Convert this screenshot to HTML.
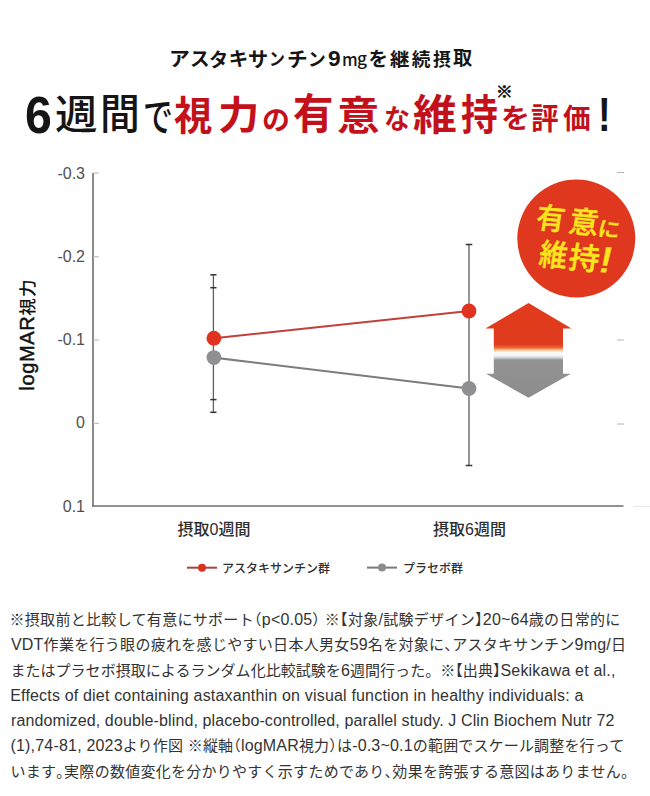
<!DOCTYPE html>
<html lang="ja">
<head>
<meta charset="utf-8">
<title>アスタキサンチン9mgを継続摂取</title>
<style>
html,body{margin:0;padding:0;background:#fff;}
body{width:650px;height:796px;position:relative;overflow:hidden;
  font-family:"Liberation Sans","Noto Sans CJK JP",sans-serif;color:#333;}
.g{position:absolute;line-height:1;white-space:nowrap;transform-origin:0 0;font-weight:700;}
.g.J{font-family:"Noto Sans CJK JP",sans-serif;}
.g.L{font-family:"Liberation Sans",sans-serif;}
svg{position:absolute;left:0;top:0;}
.fn{position:absolute;left:0;white-space:nowrap;font-family:"Noto Sans CJK JP",sans-serif;font-size:15px;line-height:24px;color:#333;}
.fn .l{font-family:"Liberation Sans",sans-serif;font-size:16px;letter-spacing:0.19px;}
.fn .h{font-feature-settings:"halt";}
.fn.lat{font-family:"Liberation Sans","Noto Sans CJK JP",sans-serif;font-size:16px;}
</style>
</head>
<body>
<span class="g J" style="left:168.6px;font-weight:700;top:47.94px;font-size:19.75px;color:#151515;transform:scaleX(1.055);">ア</span>
<span class="g J" style="left:189.93px;font-weight:700;top:48.15px;font-size:19.75px;color:#151515;transform:scaleX(0.995);">ス</span>
<span class="g J" style="left:209.35px;font-weight:700;top:48.62px;font-size:19.78px;color:#151515;transform:scaleX(0.969);">タ</span>
<span class="g J" style="left:228.74px;font-weight:700;top:48.17px;font-size:19.43px;color:#151515;">キ</span>
<span class="g J" style="left:248.29px;font-weight:700;top:47.65px;font-size:20.35px;color:#151515;transform:scaleX(0.989);">サ</span>
<span class="g J" style="left:269.1px;font-weight:700;top:49.42px;font-size:17.61px;color:#151515;transform:scaleX(0.9);">ン</span>
<span class="g J" style="left:287.34px;font-weight:700;top:47.63px;font-size:20.47px;color:#151515;transform:scaleX(1.012);">チ</span>
<span class="g J" style="left:307.88px;font-weight:700;top:48.81px;font-size:18.24px;color:#151515;transform:scaleX(0.97);">ン</span>
<span class="g L" style="left:328.21px;font-weight:700;top:48.33px;font-size:21.83px;color:#151515;transform:scaleX(1.039);">9</span>
<span class="g J" style="left:342.08px;font-weight:500;top:49.95px;font-size:17.7px;color:#151515;transform:scaleX(0.942);">m</span>
<span class="g J" style="left:357.22px;font-weight:500;top:50.33px;font-size:16.67px;color:#151515;transform:scaleX(1.038);">g</span>
<span class="g J" style="left:368.55px;font-weight:700;top:48.17px;font-size:19.43px;color:#151515;">を</span>
<span class="g J" style="left:389.71px;font-weight:700;top:48.92px;font-size:18.62px;color:#151515;transform:scaleX(1.041);">継</span>
<span class="g J" style="left:411.72px;font-weight:700;top:48.92px;font-size:18.62px;color:#151515;">続</span>
<span class="g J" style="left:433.14px;font-weight:700;top:48.97px;font-size:17.99px;color:#151515;transform:scaleX(0.99);">摂</span>
<span class="g J" style="left:453.11px;font-weight:700;top:48.31px;font-size:19.21px;color:#151515;">取</span>
<span class="g L" style="left:25.11px;font-weight:700;top:89.79px;font-size:51.13px;color:#151515;transform:scaleX(0.944);">6</span>
<span class="g J" style="left:54.92px;font-weight:500;top:91.76px;font-size:40.33px;color:#151515;transform:scaleX(1.055);">週</span>
<span class="g J" style="left:99.62px;font-weight:500;top:91.18px;font-size:41.69px;color:#151515;transform:scaleX(0.954);">間</span>
<span class="g J" style="left:143.15px;font-weight:500;top:93.87px;font-size:40.13px;color:#151515;transform:scaleX(0.746);">で</span>
<span class="g J" style="left:174.42px;font-weight:700;top:92.58px;font-size:40.21px;color:#c3111b;transform:scaleX(0.954);">視</span>
<span class="g J" style="left:218.14px;font-weight:700;top:93.76px;font-size:38.1px;color:#c3111b;transform:scaleX(1.086);">力</span>
<span class="g J" style="left:262.19px;font-weight:700;top:104.74px;font-size:27.67px;color:#c3111b;transform:scaleX(1.008);">の</span>
<span class="g J" style="left:292.79px;font-weight:700;top:91.47px;font-size:41.49px;color:#c3111b;transform:scaleX(0.975);">有</span>
<span class="g J" style="left:336.72px;font-weight:700;top:92.62px;font-size:39.78px;color:#c3111b;transform:scaleX(1.07);">意</span>
<span class="g J" style="left:384.31px;font-weight:700;top:103.88px;font-size:27.12px;color:#c3111b;transform:scaleX(0.958);">な</span>
<span class="g J" style="left:413.34px;font-weight:700;top:92.47px;font-size:41.49px;color:#c3111b;transform:scaleX(1.054);">維</span>
<span class="g J" style="left:461.26px;font-weight:700;top:92.47px;font-size:41.49px;color:#c3111b;transform:scaleX(0.888);">持</span>
<span class="g J" style="left:495.67px;font-weight:700;top:83.02px;font-size:15.28px;color:#151515;transform:scaleX(1.091);-webkit-text-stroke:0.7px #151515;">※</span>
<span class="g J" style="left:500.82px;font-weight:700;top:102.71px;font-size:27.43px;color:#c3111b;transform:scaleX(1.061);">を</span>
<span class="g J" style="left:531.17px;font-weight:700;top:101.59px;font-size:29.67px;color:#c3111b;transform:scaleX(0.932);">評</span>
<span class="g J" style="left:562.59px;font-weight:700;top:102.56px;font-size:28.72px;color:#c3111b;transform:scaleX(0.963);">価</span>
<span class="g L" style="left:598.4px;font-weight:700;top:89.61px;font-size:48.99px;color:#151515;transform:scaleX(0.774);">!</span>

<svg width="650" height="796" viewBox="0 0 650 796">
  <!-- axes -->
  <g stroke="#6e6e6e" stroke-width="1.6" fill="none">
    <line x1="93" y1="173" x2="93" y2="506.8"/>
    <line x1="92.2" y1="506" x2="623.5" y2="506"/>
  </g>
  <g stroke="#b4b4b4" stroke-width="1">
    <line x1="93" y1="173" x2="99" y2="173"/>
    <line x1="93" y1="256.8" x2="99" y2="256.8"/>
    <line x1="93" y1="340" x2="99" y2="340"/>
    <line x1="93" y1="423.3" x2="99" y2="423.3"/>
    <line x1="617" y1="172.5" x2="624" y2="172.5"/>
    <line x1="617" y1="340" x2="624" y2="340"/>
    <line x1="617" y1="424" x2="624" y2="424"/>
  </g>
  <g font-family="Liberation Sans, sans-serif" font-size="16" fill="#505050" text-anchor="end">
    <text x="85" y="178.6">-0.3</text>
    <text x="85" y="262.2">-0.2</text>
    <text x="85" y="345">-0.1</text>
    <text x="85" y="428">0</text>
    <text x="85" y="511.5">0.1</text>
  </g>
  <text transform="translate(34.3,390.5) rotate(-90)" font-family="Liberation Sans, sans-serif" font-size="20" letter-spacing="0.6" fill="#111" stroke="#111" stroke-width="0.45">logMAR<tspan font-family="Noto Sans CJK JP, sans-serif" font-size="17.5" font-weight="500" stroke-width="0" letter-spacing="1.2" dy="-0.6">視力</tspan></text>

  <!-- error bars -->
  <g stroke="#5e5e5e" stroke-width="1.3">
    <line x1="213.4" y1="274.8" x2="213.4" y2="412.3"/>
    <line x1="469" y1="244.5" x2="469" y2="465.5"/>
  </g>
  <g stroke="#333" stroke-width="1.5">
    <line x1="210.3" y1="274.8" x2="216.5" y2="274.8"/>
    <line x1="210.3" y1="287.7" x2="216.5" y2="287.7"/>
    <line x1="210.3" y1="399.6" x2="216.5" y2="399.6"/>
    <line x1="210.3" y1="412.3" x2="216.5" y2="412.3"/>
    <line x1="465.7" y1="244.5" x2="472.3" y2="244.5"/>
    <line x1="465.7" y1="465.5" x2="472.3" y2="465.5"/>
  </g>
  <line x1="633" y1="506.3" x2="650" y2="506.3" stroke="#e4e4e4" stroke-width="1"/>
  <!-- series lines -->
  <line x1="214" y1="338.2" x2="469" y2="311" stroke="#c0403a" stroke-width="2.1"/>
  <line x1="214" y1="357.6" x2="469" y2="388.5" stroke="#7c7c7c" stroke-width="2.1"/>
  <circle cx="213.9" cy="338.2" r="7.4" fill="#e0321f"/>
  <circle cx="213.9" cy="357.6" r="7.4" fill="#8f8f92"/>
  <circle cx="469" cy="311" r="7.4" fill="#e0321f"/>
  <circle cx="469" cy="388.5" r="7.4" fill="#8f8f92"/>

  <!-- arrow -->
  <defs>
    <linearGradient id="ag" gradientUnits="userSpaceOnUse" x1="0" y1="303" x2="0" y2="398">
      <stop offset="0" stop-color="#e23a1c"/>
      <stop offset="0.435" stop-color="#df3b1f"/>
      <stop offset="0.47" stop-color="#ec6a35"/>
      <stop offset="0.50" stop-color="#f8cfa4"/>
      <stop offset="0.52" stop-color="#fffaf0"/>
      <stop offset="0.555" stop-color="#f1f4f7"/>
      <stop offset="0.58" stop-color="#c5cacf"/>
      <stop offset="0.60" stop-color="#939393"/>
      <stop offset="1" stop-color="#8c8c8c"/>
    </linearGradient>
  </defs>
  <path d="M528.5 303 L571.5 328.5 L563 328.5 L563 373.8 L570.8 373.8 L528.5 397.7 L486 373.8 L493.8 373.8 L493.8 328.5 L485.4 328.5 Z" fill="url(#ag)"/>

  <!-- badge -->
  <circle cx="576.3" cy="238.5" r="59" fill="#e0381f"/>


  <!-- x labels -->
  <g font-family="Liberation Sans, Noto Sans CJK JP, sans-serif" font-size="16" font-weight="500" fill="#2e2e2e">
    <text x="177.5" y="535">摂取0週間</text>
    <text x="433" y="535">摂取6週間</text>
  </g>
  <!-- legend -->
  <line x1="187" y1="567.7" x2="217" y2="567.7" stroke="#a8423c" stroke-width="2"/>
  <circle cx="202" cy="567.7" r="4" fill="#d8341f"/>
  <line x1="367" y1="567.6" x2="397" y2="567.6" stroke="#7a7a7a" stroke-width="2"/>
  <circle cx="382" cy="567.6" r="4" fill="#8c8c8c"/>
  <g font-family="Noto Sans CJK JP, sans-serif" font-size="12" font-weight="500" fill="#2e2e2e">
    <text x="222" y="572.5">アスタキサンチン群</text>
    <text x="403" y="572.5">プラセボ群</text>
  </g>
</svg>
<!--badge-->
<span class="g J" style="left:538.72px;top:201.32px;font-weight:500;font-size:29.47px;color:#f9e51d;-webkit-text-stroke:0.5px #f9e51d;transform:scaleX(0.971) rotate(5deg) skewX(-4deg);">有</span>
<span class="g J" style="left:571.74px;top:204.09px;font-weight:500;font-size:30.05px;color:#f9e51d;-webkit-text-stroke:0.5px #f9e51d;transform:scaleX(0.981) rotate(5deg) skewX(-4deg);">意</span>
<span class="g J" style="left:600.11px;top:216.64px;font-weight:500;font-size:20.86px;color:#f9e51d;-webkit-text-stroke:0.5px #f9e51d;transform:scaleX(1.062) rotate(5deg) skewX(-4deg);">に</span>
<span class="g J" style="left:541.85px;top:237.02px;font-weight:500;font-size:30.74px;color:#f9e51d;-webkit-text-stroke:0.5px #f9e51d;transform:scaleX(0.909) rotate(5deg) skewX(-4deg);">維</span>
<span class="g J" style="left:571.74px;top:239.51px;font-weight:500;font-size:30.36px;color:#f9e51d;-webkit-text-stroke:0.5px #f9e51d;transform:scaleX(1.003) rotate(5deg) skewX(-4deg);">持</span>
<span class="g L" style="left:602.8px;top:242.05px;font-weight:400;font-size:36.06px;color:#f9e51d;-webkit-text-stroke:0.5px #f9e51d;transform:scaleX(1.387) rotate(5deg) skewX(-4deg);">!</span>
<!--/badge-->


<div class="fn" style="top:607.26px;left:9.5px;letter-spacing:0.308px">※摂取前と比較して有意にサポート<span class="h">（</span><span class="l">p&lt;0.05</span><span class="h">）</span><span class="l"> </span>※<span class="h">【</span>対象<span class="l">/</span>試験デザイン<span class="h">】</span><span class="l">20~64</span>歳の日常的に</div>
<div class="fn" style="top:631.96px;left:11.0px;letter-spacing:0.303px"><span class="l">VDT</span>作業を行う眼の疲れを感じやすい日本人男女<span class="l">59</span>名を対象に<span class="h">、</span>アスタキサンチン<span class="l">9mg/</span>日</div>
<div class="fn" style="top:657.86px;left:10.4px;letter-spacing:0.043px">またはプラセボ摂取によるランダム化比較試験を<span class="l">6</span>週間行った。※<span class="h">【</span>出典<span class="h">】</span><span class="l">Sekikawa et al.,</span></div>
<div class="fn lat" style="top:684.46px;left:10.2px;letter-spacing:0.181px">Effects of diet containing astaxanthin on visual function in healthy individuals: a</div>
<div class="fn lat" style="top:708.96px;left:11.0px;letter-spacing:0.115px">randomized, double-blind, placebo-controlled, parallel study. J Clin Biochem Nutr 72</div>
<div class="fn" style="top:733.46px;left:10.5px;letter-spacing:0.159px"><span class="l">(1),74-81, 2023</span>より作図<span class="l"> </span>※縦軸<span class="h">（</span><span class="l">logMAR</span>視力<span class="h">）</span>は<span class="l">-0.3~0.1</span>の範囲でスケール調整を行って</div>
<div class="fn" style="top:758.76px;left:10.5px;letter-spacing:0.268px">います<span class="h">。</span>実際の数値変化を分かりやすく示すためであり<span class="h">、</span>効果を誇張する意図はありません<span class="h">。</span></div>
</body>
</html>
